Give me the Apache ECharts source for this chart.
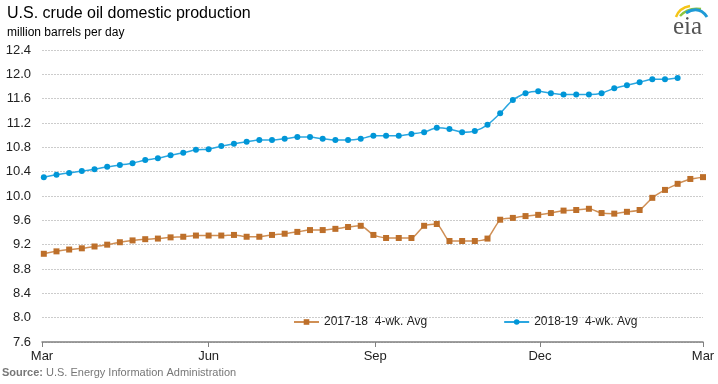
<!DOCTYPE html>
<html>
<head>
<meta charset="utf-8">
<script src="https://cdn.jsdelivr.net/npm/echarts@6/dist/echarts.min.js"></script>
<style>
  html, body { margin: 0; padding: 0; background: #fff; }
  #chart { width: 718px; height: 384px; }
</style>
</head>
<body>
<div id="chart"></div>
<script>
// ---- data ----
const titleText = 'U.S. crude oil domestic production';
const unitText = 'million barrels per day';
const sourceLabel = 'Source:';
const sourceText = ' U.S. Energy Information Administration';

const seriesNames = ['2017-18  4-wk. Avg', '2018-19  4-wk. Avg'];

// x axis: days since Mar 1, weekly observations
const xTickLabels = ['Mar', 'Jun', 'Sep', 'Dec', 'Mar'];
const xTickDays = [0, 92, 184, 275, 365];
const firstWeekDay = 1;
const weekStep = 7;

const yTickMin = 7.6, yTickMax = 12.4, yTickStep = 0.4;

const prod2017_18 = [
  9.05, 9.09, 9.12, 9.14, 9.17, 9.20, 9.24, 9.27, 9.29, 9.30,
  9.32, 9.33, 9.35, 9.35, 9.35, 9.36, 9.33, 9.33, 9.36, 9.38,
  9.41, 9.44, 9.44, 9.46, 9.49, 9.51, 9.36, 9.31, 9.31, 9.31,
  9.51, 9.54, 9.26, 9.26, 9.26, 9.30, 9.61, 9.64, 9.67, 9.69,
  9.72, 9.76, 9.77, 9.79, 9.72, 9.71, 9.74, 9.77, 9.97, 10.10,
  10.20, 10.28, 10.31
];
const prod2018_19 = [
  10.31, 10.35, 10.38, 10.41, 10.44, 10.48, 10.51, 10.54, 10.59, 10.62,
  10.67, 10.71, 10.76, 10.77, 10.82, 10.86, 10.89, 10.92, 10.92, 10.94,
  10.97, 10.97, 10.94, 10.92, 10.92, 10.94, 10.99, 10.99, 10.99, 11.02,
  11.05, 11.12, 11.10, 11.05, 11.07, 11.17, 11.36, 11.58, 11.69, 11.72,
  11.69, 11.67, 11.67, 11.67, 11.69, 11.77, 11.82, 11.87, 11.92, 11.92,
  11.94
];

// ---- chart ----
const FONT = "'Liberation Sans', Arial, sans-serif";
const toPairs = arr => arr.map((v, i) => [firstWeekDay + weekStep * i, v]);

const chart = echarts.init(document.getElementById('chart'), null, { renderer: 'canvas' });
chart.setOption({
  animation: false,
  backgroundColor: '#ffffff',
  title: {
    text: titleText,
    subtext: unitText,
    left: 7,
    top: 6,
    padding: 0,
    itemGap: 5,
    textStyle: { fontFamily: FONT, fontSize: 16, fontWeight: 'normal', color: '#000' },
    subtextStyle: { fontFamily: FONT, fontSize: 12, color: '#000' }
  },
  grid: { left: 42, right: 15, top: 50, bottom: 42, containLabel: false },
  legend: {
    data: seriesNames,
    left: 293,
    top: 316,
    padding: 0,
    itemWidth: 25,
    itemHeight: 7,
    itemGap: 76,
    textStyle: { fontFamily: FONT, fontSize: 12, color: '#222' }
  },
  xAxis: {
    type: 'value',
    min: xTickDays[0],
    max: xTickDays[xTickDays.length - 1],
    axisLine: { show: true, lineStyle: { color: '#808080', width: 1.5 } },
    axisTick: { show: true, customValues: xTickDays, length: 5, lineStyle: { color: '#808080' } },
    axisLabel: {
      customValues: xTickDays,
      formatter: v => xTickLabels[xTickDays.indexOf(v)],
      fontFamily: FONT, fontSize: 13, color: '#222', margin: 8
    },
    splitLine: { show: false }
  },
  yAxis: {
    type: 'value',
    min: yTickMin,
    max: yTickMax,
    interval: yTickStep,
    axisLine: { show: false },
    axisTick: { show: false },
    axisLabel: {
      formatter: v => v.toFixed(1),
      fontFamily: FONT, fontSize: 13, color: '#222', margin: 11
    },
    splitLine: { show: true, lineStyle: { color: '#cccccc', type: [2, 1], width: 1 } }
  },
  series: [
    {
      name: seriesNames[0],
      type: 'line',
      data: toPairs(prod2017_18),
      symbol: 'rect',
      symbolSize: 6,
      smooth: 0.2,
      itemStyle: { color: '#bd6f2a' },
      lineStyle: { color: '#cf8f55', width: 1.5 }
    },
    {
      name: seriesNames[1],
      type: 'line',
      data: toPairs(prod2018_19),
      symbol: 'circle',
      symbolSize: 6,
      smooth: 0.2,
      itemStyle: { color: '#0096d7' },
      lineStyle: { color: '#2aa6e0', width: 1.5 }
    }
  ],
  graphic: [
    {
      type: 'text',
      left: 2,
      top: 367,
      style: {
        text: '{b|' + sourceLabel + '}' + sourceText,
        fontFamily: FONT,
        fontSize: 11,
        fill: '#777',
        rich: { b: { fontFamily: FONT, fontSize: 11, fontWeight: 'bold', fill: '#777' } }
      }
    },
    // EIA logo
    { type: 'bezierCurve', shape: { x1: 676, y1: 17, x2: 690, y2: 6, cpx1: 679, cpy1: 8 },
      style: { stroke: '#f5c518', lineWidth: 2.5, fill: null } },
    { type: 'bezierCurve', shape: { x1: 680, y1: 16, x2: 701, y2: 9, cpx1: 688, cpy1: 7 },
      style: { stroke: '#8cc63f', lineWidth: 2.5, fill: null } },
    { type: 'bezierCurve', shape: { x1: 686, y1: 13, x2: 707, y2: 17, cpx1: 699, cpy1: 5 },
      style: { stroke: '#1e9ad6', lineWidth: 3, fill: null } },
    {
      type: 'text',
      left: 673,
      top: 15,
      style: { text: 'eia', fontFamily: "'Liberation Serif', 'DejaVu Serif', serif", fontSize: 25, fill: '#555' }
    }
  ]
});
</script>
</body>
</html>
